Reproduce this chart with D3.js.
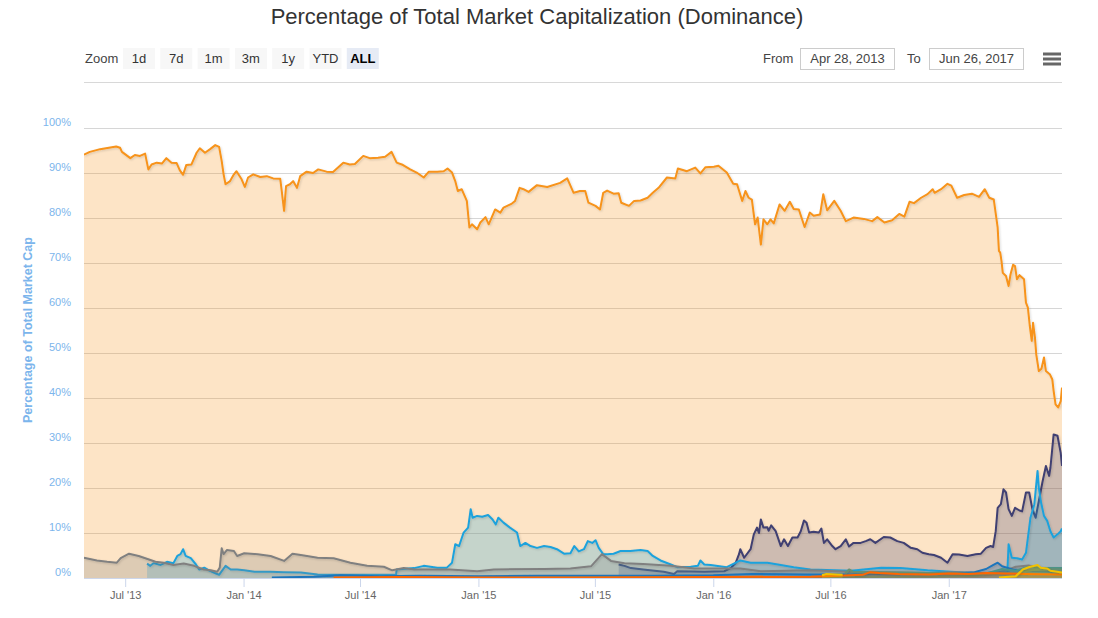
<!DOCTYPE html>
<html><head><meta charset="utf-8">
<script src="https://cdn.jsdelivr.net/npm/d3@7/dist/d3.min.js"></script>
<style>
html,body{margin:0;padding:0;background:#fff;}
svg{display:block;}
</style></head>
<body><svg id="c" width="1098" height="618"></svg>
<script>
const titleText = "Percentage of Total Market Capitalization (Dominance)";
const yAxisTitle = "Percentage of Total Market Cap";
const zoomButtons = ["1d","7d","1m","3m","1y","YTD","ALL"];
const selectedButton = "ALL";
const fromDate = "Apr 28, 2013";
const toDate = "Jun 26, 2017";
const yTicks = [0,10,20,30,40,50,60,70,80,90,100];
const xTickDates = ["2013-07-01","2014-01-01","2014-07-01","2015-01-01","2015-07-01","2016-01-01","2016-07-01","2017-01-01"];
const domainDates = ["2013-04-28","2017-06-26"];

const bitcoin = [["2013-04-28",94.1],["2013-05-07",94.7],["2013-05-23",95.3],["2013-06-17",95.9],["2013-06-23",95.6],["2013-06-26",94.7],["2013-07-09",93.3],["2013-07-16",94.0],["2013-07-24",93.8],["2013-08-01",94.3],["2013-08-06",90.8],["2013-08-11",91.9],["2013-08-19",92.3],["2013-08-27",92.1],["2013-09-03",93.3],["2013-09-11",92.3],["2013-09-19",92.2],["2013-09-24",90.6],["2013-09-29",89.6],["2013-10-04",91.8],["2013-10-12",91.9],["2013-10-20",94.5],["2013-10-25",95.5],["2013-11-02",94.5],["2013-11-10",95.3],["2013-11-18",96.2],["2013-11-24",95.8],["2013-11-28",92.7],["2013-12-01",89.7],["2013-12-04",87.5],["2013-12-11",88.2],["2013-12-17",89.7],["2013-12-21",90.4],["2013-12-25",89.5],["2013-12-29",88.6],["2014-01-03",86.9],["2014-01-08",89.0],["2014-01-16",89.7],["2014-01-27",89.1],["2014-02-06",89.3],["2014-02-16",88.8],["2014-02-27",88.7],["2014-03-01",86.4],["2014-03-05",81.6],["2014-03-08",87.1],["2014-03-14",87.5],["2014-03-19",88.2],["2014-03-25",86.7],["2014-03-30",89.3],["2014-04-09",90.3],["2014-04-19",90.0],["2014-04-27",90.8],["2014-05-10",90.3],["2014-05-20",90.2],["2014-06-05",92.3],["2014-06-15",91.9],["2014-06-23",92.0],["2014-07-06",93.8],["2014-07-16",93.3],["2014-07-29",93.4],["2014-08-09",93.6],["2014-08-19",94.7],["2014-08-27",92.3],["2014-09-04",91.9],["2014-09-17",90.8],["2014-09-27",90.1],["2014-10-08",89.0],["2014-10-16",90.3],["2014-10-29",90.3],["2014-11-08",90.4],["2014-11-14",91.0],["2014-11-21",90.1],["2014-11-26",88.2],["2014-11-30",86.0],["2014-12-06",86.4],["2014-12-14",83.8],["2014-12-18",77.9],["2014-12-22",78.6],["2014-12-30",77.5],["2015-01-04",79.0],["2015-01-12",80.2],["2015-01-17",78.6],["2015-01-27",81.9],["2015-02-04",81.2],["2015-02-09",82.3],["2015-02-22",83.2],["2015-02-27",83.8],["2015-03-06",86.7],["2015-03-12",86.4],["2015-03-20",85.8],["2015-04-02",87.3],["2015-04-18",86.9],["2015-05-08",87.8],["2015-05-19",88.8],["2015-05-29",85.6],["2015-06-08",86.0],["2015-06-16",86.0],["2015-06-21",83.4],["2015-07-02",82.7],["2015-07-09",81.9],["2015-07-14",85.6],["2015-07-20",86.1],["2015-07-30",85.4],["2015-08-07",85.5],["2015-08-11",83.4],["2015-08-23",82.7],["2015-08-31",83.8],["2015-09-10",83.9],["2015-09-21",84.5],["2015-09-29",85.6],["2015-10-08",86.7],["2015-10-21",89.0],["2015-11-03",88.8],["2015-11-07",91.0],["2015-11-21",90.4],["2015-12-04",91.2],["2015-12-12",89.9],["2015-12-20",91.3],["2016-01-02",91.4],["2016-01-09",91.6],["2016-01-22",90.1],["2016-02-01",87.6],["2016-02-07",87.5],["2016-02-15",83.8],["2016-02-20",86.0],["2016-02-25",84.5],["2016-03-01",84.1],["2016-03-06",78.6],["2016-03-10",80.1],["2016-03-15",74.1],["2016-03-19",79.7],["2016-03-25",78.6],["2016-03-30",79.7],["2016-04-04",78.8],["2016-04-13",83.0],["2016-04-21",81.6],["2016-04-29",83.6],["2016-05-05",82.0],["2016-05-13",81.9],["2016-05-22",78.0],["2016-05-30",81.2],["2016-06-05",80.5],["2016-06-15",80.8],["2016-06-20",85.3],["2016-06-26",81.7],["2016-07-07",83.8],["2016-07-17",81.6],["2016-07-25",79.3],["2016-08-06",80.1],["2016-08-22",79.8],["2016-09-04",79.3],["2016-09-12",80.2],["2016-09-23",79.0],["2016-10-05",79.5],["2016-10-16",80.9],["2016-10-24",80.3],["2016-11-01",83.6],["2016-11-08",83.3],["2016-11-19",84.5],["2016-11-29",85.3],["2016-12-07",86.4],["2016-12-10",85.6],["2016-12-20",86.4],["2016-12-30",87.6],["2017-01-05",87.2],["2017-01-14",84.5],["2017-01-25",85.1],["2017-02-06",85.4],["2017-02-17",84.7],["2017-02-26",86.4],["2017-03-05",84.5],["2017-03-12",84.1],["2017-03-18",77.9],["2017-03-20",72.7],["2017-03-22",72.3],["2017-03-24",70.4],["2017-03-26",67.8],["2017-03-31",67.1],["2017-04-04",64.9],["2017-04-07",67.5],["2017-04-11",69.6],["2017-04-14",69.3],["2017-04-17",66.4],["2017-04-21",67.3],["2017-04-28",66.4],["2017-05-01",61.2],["2017-05-04",60.1],["2017-05-07",56.0],["2017-05-10",52.7],["2017-05-12",56.7],["2017-05-15",53.4],["2017-05-17",49.7],["2017-05-21",46.0],["2017-05-25",46.5],["2017-05-29",49.0],["2017-06-01",46.0],["2017-06-07",45.3],["2017-06-11",44.1],["2017-06-13",41.6],["2017-06-16",38.6],["2017-06-20",37.9],["2017-06-24",39.3],["2017-06-26",42.3]];

const ethereum = [["2015-08-07",3.0],["2015-08-16",2.7],["2015-08-26",2.2],["2015-09-14",1.9],["2015-10-16",1.4],["2015-11-01",0.9],["2015-11-06",1.5],["2015-12-18",1.4],["2016-01-18",1.5],["2016-01-28",2.2],["2016-02-05",3.4],["2016-02-10",5.3],["2016-02-12",6.4],["2016-02-18",4.5],["2016-02-28",6.4],["2016-03-04",9.7],["2016-03-09",11.2],["2016-03-12",10.0],["2016-03-15",13.0],["2016-03-19",11.2],["2016-03-25",11.3],["2016-03-27",10.5],["2016-03-31",11.7],["2016-04-07",10.4],["2016-04-15",7.1],["2016-04-20",8.6],["2016-04-26",7.1],["2016-05-03",9.0],["2016-05-11",9.0],["2016-05-16",10.4],["2016-05-21",12.8],["2016-05-25",12.3],["2016-05-29",10.1],["2016-06-05",10.3],["2016-06-13",10.1],["2016-06-17",11.0],["2016-06-21",7.8],["2016-06-26",8.6],["2016-07-04",7.1],["2016-07-09",6.4],["2016-07-17",7.1],["2016-07-25",8.6],["2016-07-30",7.0],["2016-08-06",7.8],["2016-08-17",7.8],["2016-08-25",8.2],["2016-09-01",8.6],["2016-09-09",7.8],["2016-09-22",9.1],["2016-10-02",9.0],["2016-10-13",8.2],["2016-10-23",7.8],["2016-11-03",6.7],["2016-11-13",6.4],["2016-11-21",5.6],["2016-12-01",5.3],["2016-12-09",5.1],["2016-12-20",4.5],["2016-12-30",3.4],["2017-01-07",5.3],["2017-01-17",5.2],["2017-01-30",4.9],["2017-02-12",5.3],["2017-02-20",5.4],["2017-02-28",6.7],["2017-03-07",7.1],["2017-03-11",6.9],["2017-03-15",10.4],["2017-03-18",15.6],["2017-03-23",16.4],["2017-03-27",19.7],["2017-03-31",19.0],["2017-04-04",15.3],["2017-04-09",13.8],["2017-04-14",15.6],["2017-04-21",15.0],["2017-04-25",14.8],["2017-05-01",19.0],["2017-05-06",19.0],["2017-05-11",15.3],["2017-05-16",13.4],["2017-05-21",17.1],["2017-05-27",21.6],["2017-06-01",24.9],["2017-06-06",22.7],["2017-06-08",24.5],["2017-06-13",31.9],["2017-06-19",31.6],["2017-06-24",27.8],["2017-06-26",24.9]];

const ripple = [["2013-08-04",3.2],["2013-08-09",2.7],["2013-08-14",3.3],["2013-08-25",2.9],["2013-09-04",3.6],["2013-09-14",3.3],["2013-09-20",4.9],["2013-09-25",5.3],["2013-09-29",6.4],["2013-10-03",4.9],["2013-10-11",4.4],["2013-10-19",3.0],["2013-10-24",1.9],["2013-11-01",2.3],["2013-11-08",1.7],["2013-11-19",1.0],["2013-11-24",0.7],["2013-11-29",1.7],["2013-12-04",2.7],["2013-12-12",1.9],["2013-12-22",1.9],["2014-01-02",1.7],["2014-01-18",1.4],["2014-02-12",1.4],["2014-03-05",1.3],["2014-03-31",1.2],["2014-04-26",0.8],["2014-06-16",0.7],["2014-08-07",0.7],["2014-08-26",0.7],["2014-08-27",1.9],["2014-09-23",2.2],["2014-10-08",2.7],["2014-10-29",2.3],["2014-11-13",2.3],["2014-11-21",3.4],["2014-11-26",7.5],["2014-12-02",7.1],["2014-12-09",10.1],["2014-12-16",11.2],["2014-12-20",15.3],["2014-12-23",13.4],["2014-12-30",13.8],["2015-01-07",13.6],["2015-01-16",14.0],["2015-01-23",13.0],["2015-01-28",11.9],["2015-02-01",13.4],["2015-02-09",12.3],["2015-02-19",11.2],["2015-03-02",10.1],["2015-03-07",7.1],["2015-03-15",7.8],["2015-03-23",7.1],["2015-04-02",6.7],["2015-04-13",7.1],["2015-04-23",6.9],["2015-05-03",6.4],["2015-05-14",5.4],["2015-05-24",5.5],["2015-05-30",7.1],["2015-06-06",5.9],["2015-06-14",6.4],["2015-06-20",8.2],["2015-06-27",7.8],["2015-07-02",8.4],["2015-07-07",6.7],["2015-07-14",5.3],["2015-07-20",5.3],["2015-07-30",5.4],["2015-08-10",6.0],["2015-08-25",6.0],["2015-09-10",6.2],["2015-09-21",6.0],["2015-09-29",4.9],["2015-10-11",3.9],["2015-10-27",3.0],["2015-11-06",2.4],["2015-11-27",2.5],["2015-12-08",2.7],["2015-12-12",3.9],["2015-12-18",3.0],["2015-12-28",2.9],["2016-01-22",2.4],["2016-02-02",3.2],["2016-02-12",3.9],["2016-02-28",3.4],["2016-03-25",3.4],["2016-04-15",2.9],["2016-05-05",2.4],["2016-05-31",1.9],["2016-07-07",1.7],["2016-08-02",1.6],["2016-09-18",2.3],["2016-10-18",2.2],["2016-11-29",1.7],["2017-01-04",1.4],["2017-02-24",1.0],["2017-03-23",1.2],["2017-04-02",1.2],["2017-04-04",7.5],["2017-04-09",4.5],["2017-04-17",4.4],["2017-04-25",4.1],["2017-05-01",5.6],["2017-05-08",13.4],["2017-05-14",16.4],["2017-05-19",23.8],["2017-05-21",20.1],["2017-05-24",17.1],["2017-05-29",13.8],["2017-06-03",12.7],["2017-06-08",10.4],["2017-06-13",9.0],["2017-06-19",9.7],["2017-06-24",10.4],["2017-06-26",11.0]];

const litecoin = [["2013-04-28",4.5],["2013-05-18",3.9],["2013-06-03",3.6],["2013-06-18",3.4],["2013-06-24",4.4],["2013-07-07",5.4],["2013-07-22",4.9],["2013-08-07",4.1],["2013-08-17",3.6],["2013-08-30",3.4],["2013-09-14",2.9],["2013-09-30",3.2],["2013-10-16",2.7],["2013-10-31",1.9],["2013-11-11",1.7],["2013-11-21",1.4],["2013-11-25",2.3],["2013-11-28",6.6],["2013-12-01",5.3],["2013-12-06",6.2],["2013-12-17",6.0],["2013-12-22",4.9],["2014-01-02",5.5],["2014-01-23",5.3],["2014-02-12",4.9],["2014-03-05",3.8],["2014-03-18",5.4],["2014-03-31",5.1],["2014-04-26",4.5],["2014-05-21",4.4],["2014-06-16",3.4],["2014-07-12",2.7],["2014-08-07",2.5],["2014-08-20",1.7],["2014-09-07",2.2],["2014-09-23",1.9],["2014-11-18",1.9],["2014-12-30",1.5],["2015-01-25",1.9],["2015-04-13",2.0],["2015-05-24",2.1],["2015-06-25",2.6],["2015-07-12",5.3],["2015-07-26",3.8],["2015-08-16",3.3],["2015-09-14",3.1],["2015-10-27",2.7],["2015-12-02",2.1],["2016-02-12",2.1],["2016-03-15",1.5],["2016-06-01",1.7],["2016-08-01",1.4],["2016-10-01",1.3],["2016-12-01",1.1],["2017-01-10",1.3],["2017-03-01",1.1],["2017-03-30",1.6],["2017-04-15",2.5],["2017-05-05",2.8],["2017-05-25",2.2],["2017-06-26",2.0]];

const dash = [["2014-02-14",0.1],["2014-04-20",0.3],["2014-06-01",0.6],["2014-08-01",0.4],["2014-10-01",0.5],["2015-01-01",0.4],["2015-04-01",0.5],["2015-07-01",0.5],["2015-10-01",0.5],["2016-01-01",0.6],["2016-03-01",0.9],["2016-06-01",0.8],["2016-09-01",0.8],["2016-12-01",0.8],["2017-01-15",1.0],["2017-02-10",1.3],["2017-02-28",2.0],["2017-03-10",2.8],["2017-03-18",3.4],["2017-03-25",2.6],["2017-04-10",1.9],["2017-05-10",1.5],["2017-06-26",1.2]];

const nem = [["2015-04-01",0.05],["2016-01-01",0.1],["2016-06-01",0.2],["2016-12-01",0.3],["2017-02-15",0.5],["2017-03-10",1.4],["2017-03-25",2.0],["2017-04-15",1.6],["2017-05-05",2.5],["2017-05-20",2.2],["2017-06-26",2.2]];

const ethereumClassic = [["2016-07-24",1.0],["2016-07-30",1.9],["2016-08-05",1.4],["2016-09-01",1.3],["2016-10-15",1.2],["2016-12-01",1.1],["2017-01-15",1.0],["2017-03-01",0.9],["2017-04-15",1.1],["2017-05-10",1.8],["2017-06-01",2.0],["2017-06-26",1.9]];

const monero = [["2014-05-21",0.1],["2014-09-01",0.2],["2015-01-01",0.1],["2015-06-01",0.1],["2016-01-01",0.2],["2016-06-01",0.3],["2016-08-20",0.7],["2016-09-01",1.3],["2016-09-15",1.1],["2016-10-15",0.9],["2016-12-01",0.8],["2017-01-01",1.0],["2017-02-01",0.9],["2017-03-01",1.1],["2017-04-01",1.0],["2017-05-01",0.9],["2017-06-26",0.8]];

const theDao = [["2016-06-18",0.6],["2016-06-25",0.9],["2016-07-10",0.8],["2016-07-20",0.7]];

const golem = [["2017-03-20",0.1],["2017-04-15",0.4],["2017-04-26",1.9],["2017-05-05",2.4],["2017-05-19",2.9],["2017-05-24",2.3],["2017-06-03",2.1],["2017-06-08",1.6],["2017-06-26",1.2]];

const seriesList = [
  {name:"Bitcoin", data:bitcoin, color:"#f7931a"},
  {name:"Ethereum", data:ethereum, color:"#3f3f72"},
  {name:"Ripple", data:ripple, color:"#1ea2dc"},
  {name:"Litecoin", data:litecoin, color:"#808080"},
  {name:"Dash", data:dash, color:"#1c75bc"},
  {name:"NEM", data:nem, color:"#4e9487"},
  {name:"Ethereum Classic", data:ethereumClassic, color:"#669073"},
  {name:"Monero", data:monero, color:"#ff6600"},
  {name:"The DAO", data:theDao, color:"#f2c200"},
  {name:"Golem", data:golem, color:"#f2c200"}
];

const svg = d3.select("#c");
const parse = d3.timeParse("%Y-%m-%d");
const FONT = "'Liberation Sans', Arial, sans-serif";

const x = d3.scaleTime().domain(domainDates.map(parse)).range([84, 1062]);
const y = d3.scaleLinear().domain([0, 100]).range([578, 128]);

const defs = svg.append("defs");
const f = defs.append("filter").attr("id","sh").attr("x","-5%").attr("y","-5%").attr("width","110%").attr("height","120%");
f.append("feDropShadow").attr("dx",1).attr("dy",1).attr("stdDeviation",1).attr("flood-color","#000").attr("flood-opacity",0.15);
defs.append("clipPath").attr("id","clip").append("rect").attr("x",84).attr("y",100).attr("width",978).attr("height",478);

// Title
svg.append("text").attr("x",537).attr("y",24).attr("text-anchor","middle")
  .attr("font-family",FONT).attr("font-size",22).attr("fill","#333").text(titleText);

// Range selector
svg.append("text").attr("x",85).attr("y",63).attr("font-family",FONT).attr("font-size",13).attr("fill","#444").text("Zoom");
const btn = svg.append("g");
zoomButtons.forEach((b,i)=>{
  const bx = 123 + i*37.3;
  const sel = b===selectedButton;
  btn.append("rect").attr("x",bx).attr("y",48).attr("width",32).attr("height",21)
    .attr("fill", sel ? "#e6ebf5" : "#f7f7f7");
  btn.append("text").attr("x",bx+16).attr("y",63).attr("text-anchor","middle")
    .attr("font-family",FONT).attr("font-size",13).attr("font-weight", sel?"bold":"normal")
    .attr("fill", sel ? "#000" : "#333").text(b);
});
svg.append("text").attr("x",763).attr("y",63).attr("font-family",FONT).attr("font-size",13).attr("fill","#444").text("From");
svg.append("rect").attr("x",800.5).attr("y",48.5).attr("width",94).attr("height",21).attr("fill","#fff").attr("stroke","#ccc");
svg.append("text").attr("x",847.5).attr("y",63).attr("text-anchor","middle").attr("font-family",FONT).attr("font-size",13).attr("fill","#444").text(fromDate);
svg.append("text").attr("x",907).attr("y",63).attr("font-family",FONT).attr("font-size",13).attr("fill","#444").text("To");
svg.append("rect").attr("x",929.5).attr("y",48.5).attr("width",94).attr("height",21).attr("fill","#fff").attr("stroke","#ccc");
svg.append("text").attr("x",976.5).attr("y",63).attr("text-anchor","middle").attr("font-family",FONT).attr("font-size",13).attr("fill","#444").text(toDate);
[54,59,64].forEach(yy=>{
  svg.append("line").attr("x1",1043).attr("x2",1061).attr("y1",yy).attr("y2",yy).attr("stroke","#666").attr("stroke-width",3);
});
svg.append("line").attr("x1",84).attr("x2",1062).attr("y1",82.5).attr("y2",82.5).attr("stroke","#d8d8d8");

// Grid
svg.append("g").selectAll("line").data(yTicks).join("line")
  .attr("x1",84).attr("x2",1062).attr("y1",d=>Math.round(y(d))+0.5).attr("y2",d=>Math.round(y(d))+0.5)
  .attr("stroke","#d6d6d6");

// Y labels
svg.append("g").selectAll("text").data(yTicks).join("text")
  .attr("x",71).attr("y",d=>y(d)-6).attr("dy","0.35em").attr("text-anchor","end")
  .attr("font-family",FONT).attr("font-size",11).attr("fill","#7cb5ec").text(d=>d+"%");
svg.append("text").attr("transform","translate(28,330) rotate(-90)").attr("text-anchor","middle")
  .attr("dominant-baseline","central").attr("font-family",FONT).attr("font-size",12.5).attr("font-weight","bold")
  .attr("fill","#7cb5ec").text(yAxisTitle);

// Series
const plot = svg.append("g").attr("clip-path","url(#clip)");
seriesList.forEach(s=>{
  const pts = s.data.map(d=>({date:parse(d[0]), v:d[1]}));
  const area = d3.area().x(d=>x(d.date)).y0(y(0)).y1(d=>y(d.v));
  const line = d3.line().x(d=>x(d.date)).y(d=>y(d.v));
  const g = plot.append("g");
  g.append("path").datum(pts).attr("d",area).attr("fill",s.color).attr("fill-opacity",0.25);
  g.append("path").datum(pts).attr("d",line).attr("fill","none").attr("stroke",s.color)
    .attr("stroke-width",2).attr("stroke-linejoin","round").attr("filter","url(#sh)");
});

// X axis
const xa = svg.append("g").attr("transform","translate(0,578)")
  .call(d3.axisBottom(x).tickValues(xTickDates.map(parse)).tickFormat(d3.timeFormat("%b '%y")).tickSize(9).tickPadding(4));
xa.select(".domain").remove();
xa.selectAll(".tick line").attr("stroke","#ccd6eb");
xa.selectAll(".tick text").attr("font-family",FONT).attr("font-size",11).attr("fill","#666");
svg.append("line").attr("x1",84).attr("x2",1062).attr("y1",578.5).attr("y2",578.5).attr("stroke","#ccd6eb");
</script></body></html>
